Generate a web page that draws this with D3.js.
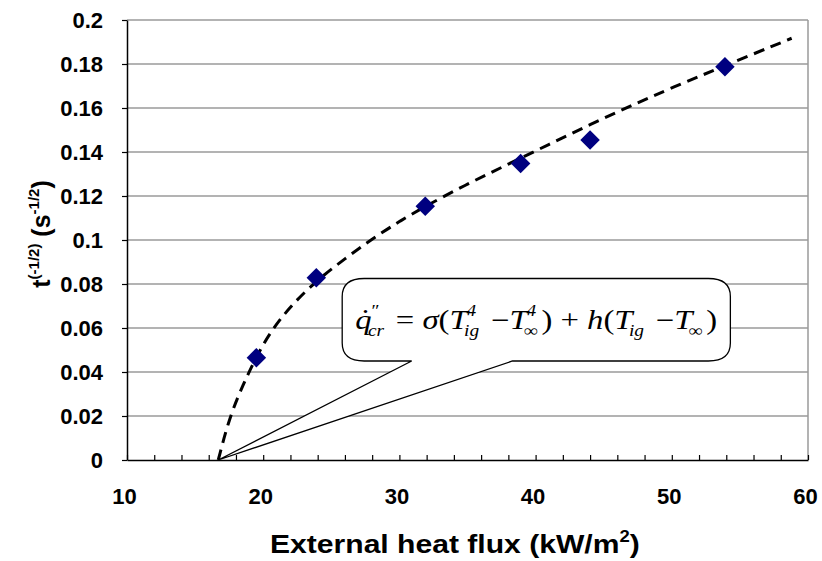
<!DOCTYPE html>
<html><head><meta charset="utf-8">
<script src="https://cdn.jsdelivr.net/npm/d3@7"></script>
<style>
body{margin:0;background:#fff;}
svg{display:block;}
text{white-space:pre;}
</style></head>
<body>
<svg id="chart" width="822" height="561"></svg>
<script>
// ---- data ----
const fluxValues = [19.5, 23.9, 31.9, 38.9, 44.0, 53.9];      // kW/m2
const tValues    = [0.0465, 0.0828, 0.1153, 0.1348, 0.1455, 0.1788]; // t^(-1/2)
const fitFlux = [16.7, 17.5, 18.5, 19.5, 20.5, 22, 24, 26, 28, 30, 32, 35, 38, 41, 44, 47, 50, 54, 58.8];
const fitT    = [0, 0.019, 0.034, 0.047, 0.058, 0.070, 0.082, 0.0915, 0.1005, 0.1085, 0.1157, 0.1255, 0.1345, 0.1435, 0.1525, 0.161, 0.1692, 0.1795, 0.1917];
const xTicks = [10, 20, 30, 40, 50, 60];
const yTicks = [0, 0.02, 0.04, 0.06, 0.08, 0.1, 0.12, 0.14, 0.16, 0.18, 0.2];
// callout anchor (data units): box corners, tail base, tail tip
const calloutBox = {x0: 25.8, x1: 54.3, y0: 0.0450, y1: 0.0825};
const calloutTail = {xa: 30.9, xb: 38.3, tipX: 16.7, tipY: 0};

// ---- layout ----
const svg = d3.select('#chart');
const L = 127, R = 808, T = 20, B = 460;
const x = d3.scaleLinear().domain([10, 60]).range([L, R]);
const y = d3.scaleLinear().domain([0, 0.2]).range([B, T]);
const font = '"Liberation Sans", Arial, sans-serif';

// gridlines
svg.append('g').selectAll('line').data(yTicks.filter(d => d > 0)).join('line')
  .attr('x1', L).attr('x2', R).attr('y1', d => y(d)).attr('y2', d => y(d))
  .attr('stroke', '#9a9a9a').attr('stroke-width', 1.5);
// right border
svg.append('line').attr('x1', R).attr('x2', R).attr('y1', T).attr('y2', B)
  .attr('stroke', '#9a9a9a').attr('stroke-width', 1.5);

// axes
const xAxis = d3.axisBottom(x).tickValues(d3.range(10, 61, 2))
  .tickFormat(d => xTicks.includes(d) ? d : '').tickSizeInner(-5).tickSizeOuter(0).tickPadding(28);
const gx = svg.append('g').attr('transform', `translate(0,${B})`).call(xAxis);
const yAxis = d3.axisLeft(y).tickValues(yTicks).tickFormat(d => String(+d.toFixed(2)))
  .tickSizeInner(5).tickSizeOuter(0).tickPadding(19);
const gy = svg.append('g').attr('transform', `translate(${L},0)`).call(yAxis);
[gx, gy].forEach(g => {
  g.select('.domain').attr('stroke', '#000').attr('stroke-width', 1.5);
  g.selectAll('.tick line').attr('stroke', '#000').attr('stroke-width', 1.2);
  g.selectAll('.tick text').attr('font-family', font).attr('font-weight', 'bold')
    .attr('font-size', 22).attr('fill', '#000');
});
gx.selectAll('.tick text').attr('dx', -3);

// callout
const bx0 = x(calloutBox.x0), bx1 = x(calloutBox.x1), by0 = y(calloutBox.y1), by1 = y(calloutBox.y0);
const rx = 22, ry = 18;
const ta = x(calloutTail.xa), tb = x(calloutTail.xb), tipx = x(calloutTail.tipX), tipy = y(calloutTail.tipY);
const p = d3.path();
p.moveTo(bx0 + rx, by0);
p.lineTo(bx1 - rx, by0);
p.quadraticCurveTo(bx1, by0, bx1, by0 + ry);
p.lineTo(bx1, by1 - ry);
p.quadraticCurveTo(bx1, by1, bx1 - rx, by1);
p.lineTo(tb, by1);
p.lineTo(tipx, tipy);
p.lineTo(ta, by1);
p.lineTo(bx0 + rx, by1);
p.quadraticCurveTo(bx0, by1, bx0, by1 - ry);
p.lineTo(bx0, by0 + ry);
p.quadraticCurveTo(bx0, by0, bx0 + rx, by0);
p.closePath();
svg.append('path').attr('d', p.toString()).attr('fill', '#fff').attr('stroke', '#000').attr('stroke-width', 1.3);

// formula
const serif = '"Liberation Serif", "Times New Roman", serif';
const fgOuter = svg.append('g');
const fg = fgOuter.append('g');
const base = (by0 + by1) / 2 + 9;
let cx = 0;
const MS = 27, SS = 16;
function put(txt, italic, size, xx, yy) {
  const t = fg.append('text').attr('x', xx).attr('y', yy).attr('font-family', serif)
    .attr('font-style', italic ? 'italic' : 'normal').attr('font-size', size).attr('fill', '#000').text(txt);
  return t.node().getComputedTextLength();
}
const parts = [
  {t: 'q', i: true, sup: '″', sub: 'cr', dot: true},
  {t: ' = ', i: false}, {t: 'σ', i: true}, {t: '(', i: false},
  {t: 'T', i: true, sup: '4', sub: 'ig'}, {t: ' −', i: false},
  {t: 'T', i: true, sup: '4', sub: '∞'}, {t: ') + ', i: false},
  {t: 'h', i: true}, {t: '(', i: false}, {t: 'T', i: true, sub: 'ig'},
  {t: ' −', i: false}, {t: 'T', i: true, sub: '∞'}, {t: ')', i: false}
];
parts.forEach(pt => {
  const w = put(pt.t, pt.i, MS, cx, 0);
  if (pt.dot) put('˙', false, MS, cx + 4, -1);
  cx += w;
  let ww = 0;
  if (pt.sup) ww = Math.max(ww, put(pt.sup, true, SS, cx - 1, -13));
  if (pt.sub) ww = Math.max(ww, put(pt.sub, true, SS, cx - 3, 7));
  cx += ww;
});
const fw = fg.node().getBBox().width;
const targetW = 362;
fgOuter.attr('transform', `translate(${bx0 + 13},${base}) scale(${targetW / fw},1)`);

// fit curve
const fit = fitFlux.map((d, i) => [d, fitT[i]]);
svg.append('path').datum(fit)
  .attr('d', d3.line().x(d => x(d[0])).y(d => y(d[1])).curve(d3.curveBasis))
  .attr('fill', 'none').attr('stroke', '#000').attr('stroke-width', 3).attr('stroke-dasharray', '11,7');

// points
const pts = fluxValues.map((d, i) => [d, tValues[i]]);
svg.append('g').selectAll('path').data(pts).join('path')
  .attr('d', d3.symbol(d3.symbolSquare, 190))
  .attr('transform', d => `translate(${x(d[0])},${y(d[1])}) rotate(45)`)
  .attr('fill', '#000080');

// axis titles
const xtg = svg.append('g');
const xt = xtg.append('text').attr('x', 0).attr('y', 0)
  .attr('font-family', font).attr('font-weight', 'bold').attr('font-size', 26).attr('fill', '#000');
xt.append('tspan').text('External heat flux (kW/m');
xt.append('tspan').attr('font-size', 16).attr('dy', -11).text('2');
xt.append('tspan').attr('dy', 11).text(')');
const xtw = xt.node().getBBox().width;
xtg.attr('transform', `translate(270,553) scale(${370 / xtw},1)`);

const yt = svg.append('text').attr('transform', `translate(50,${(T + B) / 2 - 6}) rotate(-90)`)
  .attr('text-anchor', 'middle').attr('font-family', font).attr('font-weight', 'bold')
  .attr('font-size', 25).attr('fill', '#000');
yt.append('tspan').text('t');
yt.append('tspan').attr('font-size', 15).attr('dy', -11).text('(-1/2)');
yt.append('tspan').attr('dy', 11).text(' (s');
yt.append('tspan').attr('font-size', 15).attr('dy', -11).text('-1/2');
yt.append('tspan').attr('dy', 11).text(')');
</script>
</body></html>
